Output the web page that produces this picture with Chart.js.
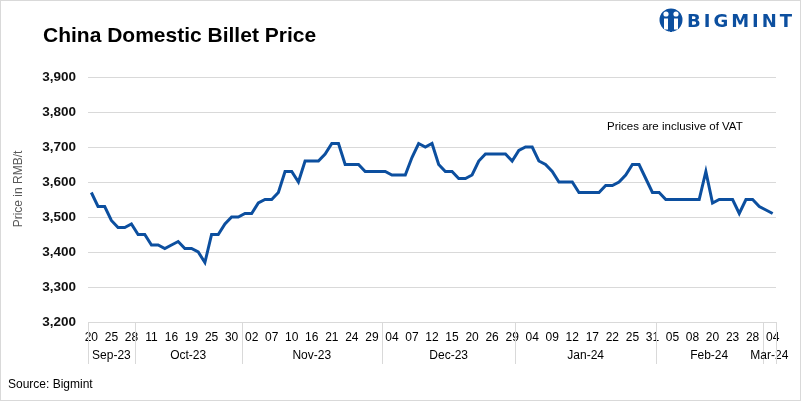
<!DOCTYPE html>
<html>
<head>
<meta charset="utf-8">
<script src="https://cdn.jsdelivr.net/npm/chart.js@4.4.0/dist/chart.umd.min.js"></script>
<style>
  html, body { margin: 0; padding: 0; background: #fff; }
  #wrap { width: 801px; height: 401px; position: relative; }
</style>
</head>
<body>
<div id="wrap"><canvas id="billetChart" width="801" height="401"></canvas></div>
<script>
// day labels, one per price point
const dayLabels = [
    '20','21','22','25','26','27','28',
    '09','10','11','12','13','16','17','18','19','20','23','25','26','27','30','31',
    '01','02','03','06','07','08','09','10','13','14','16','17','20','21','22','23','24','27','28','29','30',
    '01','04','05','06','07','08','11','12','13','14','15','18','19','20','21','22','26','27','28','29',
    '02','03','04','05','08','09','10','11','12','15','16','17','18','19','22','23','24','25','26','29','31',
    '01','02','05','06','07','08','18','19','20','21','22','23','26','27','28','29',
    '01','04'
];

// month groups under the day labels
const monthNames = ['Sep-23', 'Oct-23', 'Nov-23', 'Dec-23', 'Jan-24', 'Feb-24', 'Mar-24'];
const monthSizes = [7, 16, 21, 20, 21, 16, 2];

// billet price (RMB/t)
const prices = [
    3570, 3530, 3530, 3490, 3470, 3470, 3480,
    3450, 3450, 3420, 3420, 3410, 3420, 3430, 3410, 3410, 3400, 3370, 3450, 3450, 3480, 3500, 3500,
    3510, 3510, 3540, 3550, 3550, 3570, 3630, 3630, 3600, 3660, 3660, 3660, 3680, 3710, 3710, 3650, 3650, 3650, 3630, 3630, 3630,
    3630, 3620, 3620, 3620, 3670, 3710, 3700, 3710, 3650, 3630, 3630, 3610, 3610, 3620, 3660, 3680, 3680, 3680, 3680, 3660,
    3690, 3700, 3700, 3660, 3650, 3630, 3600, 3600, 3600, 3570, 3570, 3570, 3570, 3590, 3590, 3600, 3620, 3650, 3650, 3610, 3570,
    3570, 3550, 3550, 3550, 3550, 3550, 3550, 3630, 3540, 3550, 3550, 3550, 3510, 3550, 3550, 3530,
    3520, 3510
];

const LINE_BLUE = '#0c4f9f';
const GRID_GREY = '#d9d9d9';

// 제목, 로고, 출처, 월 구분선 등을 그리는 플러그인
const decorPlugin = {
    id: 'decor',
    afterDraw(chart) {
        const ctx = chart.ctx;
        const area = chart.chartArea;
        const x = chart.scales.x;
        ctx.save();

        // frame
        ctx.strokeStyle = GRID_GREY;
        ctx.lineWidth = 1;
        ctx.strokeRect(0.5, 0.5, 800, 400);

        // title
        ctx.fillStyle = '#000';
        ctx.font = 'bold 21px "Liberation Sans", Arial, sans-serif';
        ctx.textAlign = 'left';
        ctx.textBaseline = 'alphabetic';
        ctx.fillText('China Domestic Billet Price', 43, 42);

        // logo icon
        ctx.fillStyle = LINE_BLUE;
        ctx.beginPath();
        ctx.arc(671, 20, 11.5, 0, Math.PI * 2);
        ctx.fill();
        ctx.fillStyle = '#fff';
        ctx.beginPath();
        ctx.arc(666, 14, 2.6, 0, Math.PI * 2);
        ctx.arc(676, 14, 2.6, 0, Math.PI * 2);
        ctx.fill();
        ctx.fillRect(664, 18.5, 4, 11);
        ctx.fillRect(674, 18.5, 4, 11);
        ctx.fillStyle = LINE_BLUE;
        ctx.fillRect(670, 24, 2, 8);

        // logo text
        ctx.fillStyle = LINE_BLUE;
        ctx.font = 'bold 18px "DejaVu Sans", sans-serif';
        ctx.letterSpacing = '3px';
        ctx.textBaseline = 'alphabetic';
        ctx.fillText('BIGMINT', 687, 27);
        ctx.letterSpacing = '0px';

        // y axis title
        ctx.save();
        ctx.translate(19, 189);
        ctx.rotate(-Math.PI / 2);
        ctx.fillStyle = '#595959';
        ctx.font = '12px "Liberation Sans", Arial, sans-serif';
        ctx.textAlign = 'center';
        ctx.textBaseline = 'middle';
        ctx.fillText('Price in RMB/t', 0, 0);
        ctx.restore();

        // note
        ctx.fillStyle = '#000';
        ctx.font = '11.5px "Liberation Sans", Arial, sans-serif';
        ctx.textAlign = 'left';
        ctx.textBaseline = 'middle';
        ctx.fillText('Prices are inclusive of VAT', 607, 127);

        // month separators + labels
        const half = (x.getPixelForValue(1) - x.getPixelForValue(0)) / 2;
        ctx.strokeStyle = GRID_GREY;
        ctx.lineWidth = 1;
        ctx.fillStyle = '#000';
        ctx.font = '12px "Liberation Sans", Arial, sans-serif';
        ctx.textAlign = 'center';
        let start = 0;
        for (let m = 0; m <= monthNames.length; m++) {
            const px = Math.round(x.getPixelForValue(start) - half) + 0.5;
            ctx.beginPath();
            ctx.moveTo(px, area.bottom);
            ctx.lineTo(px, 364);
            ctx.stroke();
            if (m === monthNames.length) break;
            const end = start + monthSizes[m];
            const mid = (x.getPixelForValue(start) + x.getPixelForValue(end - 1)) / 2;
            ctx.fillText(monthNames[m], mid, 356);
            start = end;
        }

        // source
        ctx.textAlign = 'left';
        ctx.textBaseline = 'alphabetic';
        ctx.fillText('Source: Bigmint', 8, 388);

        ctx.restore();
    }
};

const ctxBillet = document.getElementById('billetChart').getContext('2d');
const billetChart = new Chart(ctxBillet, {
    type: 'line',
    data: {
        labels: dayLabels,
        datasets: [{
            label: 'Billet price',
            data: prices,
            borderColor: LINE_BLUE,
            borderWidth: 3,
            pointRadius: 0,
            tension: 0,
            fill: false
        }]
    },
    options: {
        responsive: false,
        animation: false,
        devicePixelRatio: 1,
        layout: { padding: { left: 0, right: 25, top: 77, bottom: 0 } },
        plugins: { legend: { display: false }, tooltip: { enabled: false } },
        scales: {
            x: {
                type: 'category',
                offset: true,
                afterFit: (s) => { s.height = 79; },
                grid: { display: false, drawTicks: false },
                border: { display: true, color: GRID_GREY, width: 1 },
                ticks: {
                    autoSkip: false,
                    maxRotation: 0,
                    padding: 8,
                    color: '#000',
                    font: { family: '"Liberation Sans", Arial, sans-serif', size: 12 },
                    callback: function (value, index) {
                        return index % 3 === 0 ? dayLabels[index] : '';
                    }
                }
            },
            y: {
                min: 3200,
                max: 3900,
                afterFit: (s) => { s.width = 88; },
                grid: { color: GRID_GREY, drawTicks: false },
                border: { display: false },
                ticks: {
                    stepSize: 100,
                    padding: 12,
                    color: '#111',
                    font: { family: '"Liberation Sans", Arial, sans-serif', size: 13.5, weight: 'bold' },
                    callback: (v) => v.toLocaleString('en-US')
                }
            }
        }
    },
    plugins: [decorPlugin]
});
</script>
</body>
</html>
